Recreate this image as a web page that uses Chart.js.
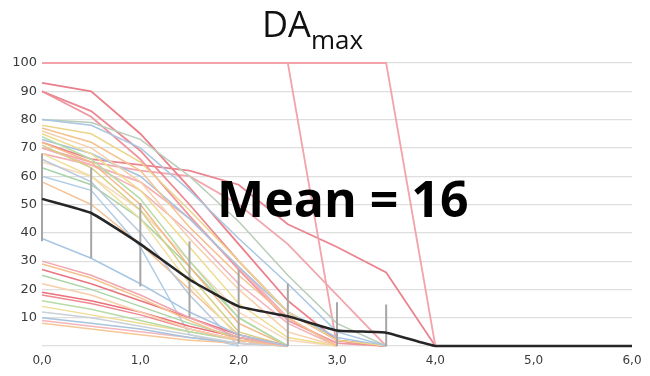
<!DOCTYPE html>
<html>
<head>
<meta charset="utf-8">
<script src="https://cdn.jsdelivr.net/npm/chart.js@4/dist/chart.umd.min.js"></script>
<style>
  html, body { margin: 0; padding: 0; background: #fff; }
  #wrap { position: relative; width: 650px; height: 376px; overflow: hidden; }
  #c { position: absolute; left: 0; top: 0; }
  #title { position: absolute; left: 262px; top: 6px; font-family: "Open Sans", sans-serif; font-size: 36px; line-height: 1; color: #111; white-space: nowrap; }
  #title sub { font-size: 26px; vertical-align: baseline; position: relative; top: 12px; }
  #mean { position: absolute; left: 217px; top: 173px; font-family: "Open Sans", sans-serif; font-weight: 700; font-size: 50px; line-height: 1; color: #000; white-space: nowrap; }
</style>
</head>
<body>
<div id="wrap">
  <canvas id="c" width="650" height="376"></canvas>
  <div id="title">DA<sub>max</sub></div>
  <div id="mean">Mean = 16</div>
</div>
<script>
// x positions (time steps)
const xValues = [0, 0.5, 1, 1.5, 2, 2.5, 3, 3.5, 4, 4.5, 5, 5.5, 6];
const xTickLabels = ["0,0", "1,0", "2,0", "3,0", "4,0", "5,0", "6,0"];
const yTickLabels = [10, 20, 30, 40, 50, 60, 70, 80, 90, 100];

// mean curve and its error bars
const meanValues = [52, 47, 36, 23.5, 14, 10.5, 5.5, 4.7, 0, 0, 0, 0, 0];
const errLow  = [37, 31, 21, 10, 1, 0, 0, 0];
const errHigh = [68, 63, 50.5, 37, 27, 22, 15.5, 14.7];

// individual curves (values at xValues, until they end)
const redSeries = [
  [100, 100, 100, 100, 100, 100, 0],
  [100, 100, 100, 100, 100, 100, 100, 100, 0],
  [93, 90, 75, 56, 36, 16, 2, 0],
  [90, 83, 69, 50, 30, 12, 2, 0],
  [90, 81, 66, 46, 27, 9, 1, 0],
  [72, 66, 64, 62, 57, 43, 35, 26, 0],
  [70, 65, 62, 60, 50, 36, 18, 0],
  [68, 64, 58, 45, 28, 10, 0]
];
const midSeries = [
  [80, 78, 70, 55, 38, 22, 5, 0],
  [80, 79, 73, 60, 44, 25, 8, 0],
  [78, 75, 65, 48, 30, 12, 2, 0],
  [77, 72, 62, 42, 25, 10, 0],
  [76, 70, 58, 38, 20, 5, 0],
  [75, 68, 55, 35, 15, 3, 0],
  [74, 66, 52, 30, 10, 0],
  [73, 68, 60, 45, 28, 12, 3, 0],
  [72, 65, 50, 28, 8, 0],
  [71, 63, 48, 25, 5, 0],
  [70, 64, 55, 40, 22, 8, 0],
  [68, 60, 45, 22, 3, 0],
  [66, 58, 40, 18, 0],
  [65, 60, 48, 30, 12, 2, 0],
  [63, 57, 45, 28, 10, 0],
  [60, 55, 35, 4, 0],
  [58, 50, 36, 20, 4, 0]
];
const lowSeries = [
  [38, 31, 22, 12, 4, 0],
  [30, 25, 18, 10, 3, 0],
  [29, 24, 17, 9, 2, 0],
  [27, 22, 16, 10, 4, 0],
  [25, 20, 14, 8, 3, 0],
  [22, 18, 12, 6, 2, 0],
  [19, 16, 12, 7, 3, 0],
  [18, 15, 11, 6, 2, 0],
  [16, 13, 9, 5, 2, 0],
  [14, 11, 8, 5, 2, 0],
  [12, 10, 7, 4, 1, 0],
  [10, 8, 6, 3, 1, 0],
  [9, 7, 5, 3, 1, 0],
  [8, 6, 4, 2, 1, 0]
];

// styles
const redColors = ["#f4a3ab", "#f4a3ab", "#eb7f8a", "#ec8a94", "#ef96a0", "#ea8590", "#f1a7ae", "#f3b0b6"];
const midColors = ["#a9c6e2", "#b9cdb8", "#ecd58a", "#f5c28e", "#f7cfaa", "#eedc8e", "#b6dba6", "#a7c4df",
                   "#f3b884", "#d6cf86", "#f2b2b8", "#f0e0a0", "#b9c8da", "#f8d8bc", "#a8d3a8", "#b0cde6", "#f4c49a"];
const lowColors = ["#a9c6e2", "#f2a6b0", "#f5c28e", "#e9747f", "#aad5a4", "#f7cfaa", "#ec6f79", "#f08890",
                   "#b6dba6", "#efdc94", "#c9d0d8", "#a7c4df", "#f4b5bc", "#f6c796"];

function toPoints(vals) { return vals.map((v, i) => ({ x: xValues[i], y: v })); }

const datasets = [];
datasets.push({
  data: toPoints(meanValues), borderColor: "#262626", borderWidth: 2.5,
  pointRadius: 0, tension: 0.12, order: 0, clip: 6
});
const errPts = [];
errLow.forEach((lo, i) => {
  errPts.push({ x: xValues[i], y: lo }, { x: xValues[i], y: errHigh[i] }, { x: xValues[i], y: null });
});
datasets.push({
  data: errPts, borderColor: "#a6a6a6", borderWidth: 2, pointRadius: 0, spanGaps: false, order: 1, clip: 6
});
function addGroup(series, colors, width) {
  series.forEach((s, i) => datasets.push({
    data: toPoints(s), borderColor: colors[i % colors.length], borderWidth: width,
    pointRadius: 0, tension: 0, order: 2, clip: 6
  }));
}
addGroup(lowSeries, lowColors, 1.5);
addGroup(midSeries, midColors, 1.5);
addGroup(redSeries, redColors, 1.8);

new Chart(document.getElementById("c"), {
  type: "line",
  data: { datasets },
  options: {
    responsive: false,
    animation: false,
    events: [],
    layout: { padding: { top: 63, right: 18, left: 0, bottom: 0 } },
    plugins: { legend: { display: false }, tooltip: { enabled: false }, title: { display: false } },
    scales: {
      x: {
        type: "linear", min: 0, max: 6,
        afterFit(scale) { scale.height = 30; },
        grid: { display: false, drawTicks: false },
        border: { display: false },
        ticks: {
          stepSize: 1, padding: 8, color: "#3a3a3a",
          font: { family: "DejaVu Sans", size: 12 },
          callback: (v) => xTickLabels[Math.round(v)]
        }
      },
      y: {
        min: 0, max: 100,
        afterFit(scale) { scale.width = 42; },
        grid: { color: "#dedede", lineWidth: 1.2, drawTicks: false },
        border: { display: false },
        ticks: {
          stepSize: 10, padding: 5, color: "#3a3a3a",
          font: { family: "DejaVu Sans", size: 13 },
          callback: (v) => yTickLabels.includes(v) ? String(v) : ""
        }
      }
    }
  }
});
</script>
</body>
</html>
